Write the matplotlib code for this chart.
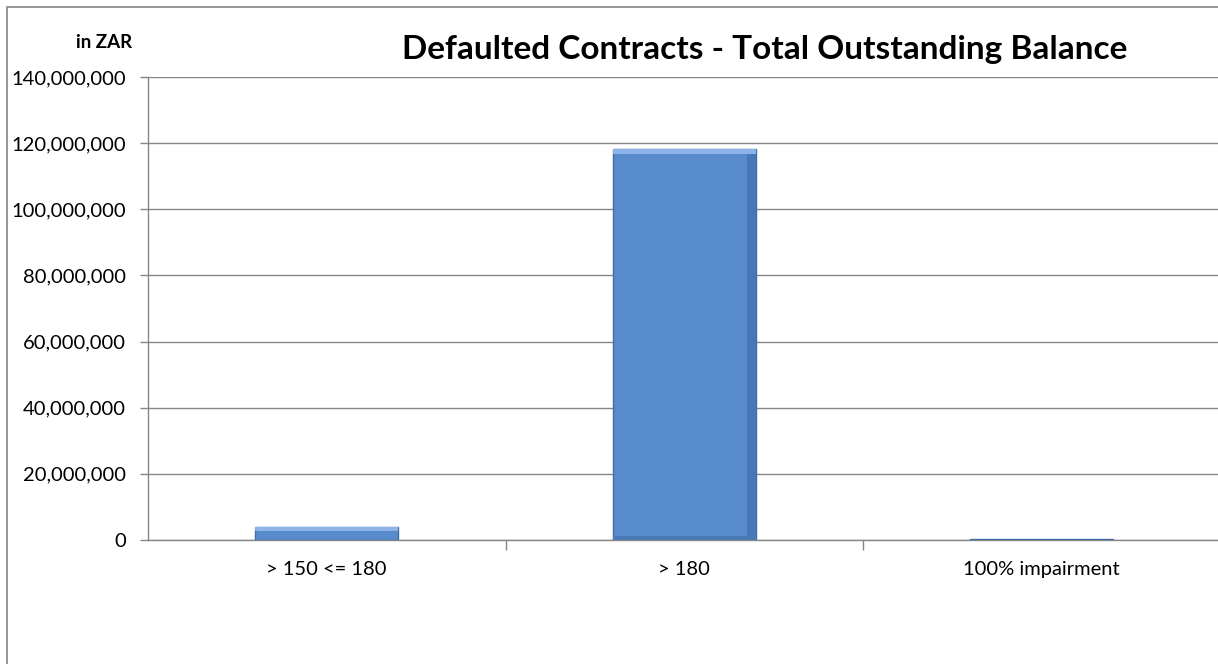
import matplotlib
matplotlib.use("Agg")
import matplotlib.pyplot as plt
from matplotlib.ticker import FuncFormatter
from matplotlib.patches import Rectangle
import numpy as np

categories = ["> 150 <= 180", "> 180", "100% impairment"]
values = [4_000_000, 118_200_000, 300_000]
yticks = [0, 20_000_000, 40_000_000, 60_000_000, 80_000_000, 100_000_000, 120_000_000, 140_000_000]

plt.rcParams['font.family'] = ['Lato', 'DejaVu Sans']

W, H = 1218, 664
fig = plt.figure(figsize=(W / 100, H / 100), dpi=100)
fig.patch.set_facecolor('white')

# outer chart border (cropped at right/bottom)
fig.add_artist(Rectangle((7 / W, -0.05), 1.1, (H - 7) / H + 0.05, transform=fig.transFigure,
                         fill=False, edgecolor='#868686', linewidth=1.2))

ax = fig.add_axes([148 / W, (H - 540) / H, (1220.5 - 148) / W, (540 - 77) / H])
x = np.arange(len(categories))
grey = '#868686'
bw = 0.4
ax.bar(x, values, width=bw, color='#588BCB', edgecolor='#3F6DA8', linewidth=1.0, zorder=3)
# bevel effect: lighter top strip, darker right-hand strip
for xi, v in zip(x, values):
    h = min(1_500_000, v * 0.35)
    ax.bar(xi, h, bottom=v - h, width=bw, color='#8DB3E8', linewidth=0, zorder=4)
    if v > 5_000_000:
        ax.bar(xi + bw / 2 - 0.012, v - h, width=0.024, color='#4777B5', linewidth=0, zorder=4)
        ax.bar(xi, 1_200_000, width=bw, color='#4A7AB8', linewidth=0, zorder=4)

ax.set_xlim(-0.5, 2.5)
ax.set_ylim(0, 140_000_000)
ax.set_yticks(yticks)
ax.yaxis.set_major_formatter(FuncFormatter(lambda v, p: f"{int(v):,}"))
ax.set_xticks(x)
ax.set_xticklabels(categories)
ax.tick_params(axis='x', length=0, pad=15, labelsize=14.5, colors='black')
ax.set_xticks([0.5, 1.5], minor=True)
ax.tick_params(axis='x', which='minor', length=7, color=grey, width=1)
ax.tick_params(axis='y', length=6, color=grey, width=1, labelsize=14.5, pad=10)
ax.grid(axis='y', color=grey, linewidth=1, zorder=0)
ax.set_axisbelow(True)
for s in ['top', 'right']:
    ax.spines[s].set_visible(False)
ax.spines['left'].set_color(grey)
ax.spines['bottom'].set_color(grey)
ax.spines['left'].set_linewidth(1)
ax.spines['bottom'].set_linewidth(1)

fig.text(104 / W, 1 - 48 / H, "in ZAR", ha='center', va='baseline', fontsize=13.5, fontweight='bold')
fig.text(765 / W, 1 - 59 / H, "Defaulted Contracts - Total Outstanding Balance", ha='center', va='baseline',
         fontsize=24, fontweight='bold')

fig.savefig("out.png", dpi=100, facecolor='white')
